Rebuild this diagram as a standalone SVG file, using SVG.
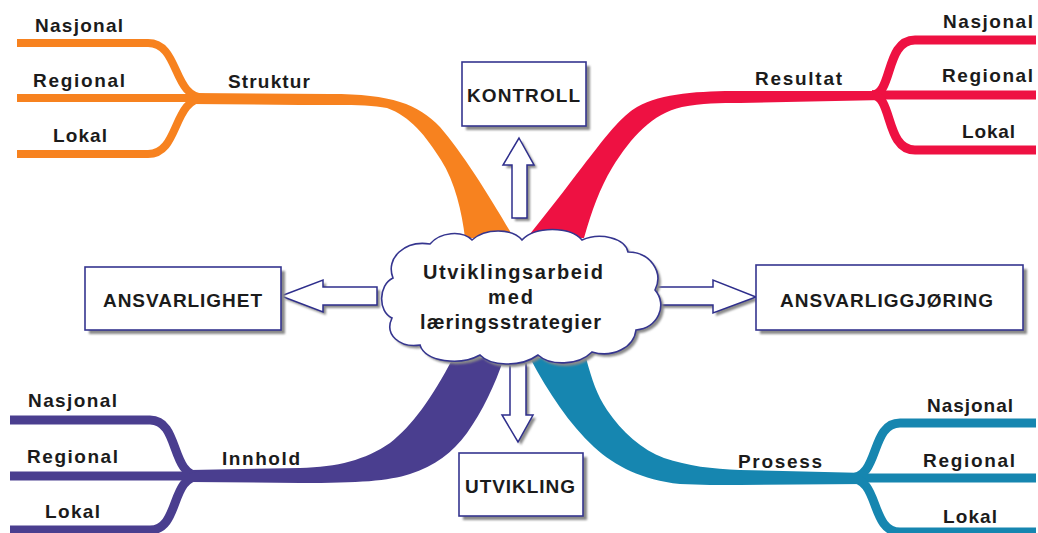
<svg xmlns="http://www.w3.org/2000/svg" width="1038" height="533" viewBox="0 0 1038 533">
  <defs>
    <filter id="soft" x="-10%" y="-10%" width="130%" height="130%">
      <feGaussianBlur stdDeviation="1.2"/>
    </filter>
    <style>
      .lbl { font-family: "Liberation Sans", Arial, sans-serif; font-weight: bold; font-size: 19px; fill: #1b1b1b; }
      .cl { font-family: "Liberation Sans", Arial, sans-serif; font-weight: bold; font-size: 20px; fill: #1b1b1b; }
      .box { fill: #ffffff; stroke: #35358f; stroke-width: 1.6; }
      .shadow { fill: #8a8a8a; filter: url(#soft); }
      .arrow { fill: #ffffff; stroke: #2e2e8c; stroke-width: 1.5; stroke-linejoin: miter; }
      .br { fill: none; stroke-linecap: butt; }
      .orange { stroke: #f7821f; stroke-width: 8; }
      .red { stroke: #ee1142; stroke-width: 9; }
      .purple { stroke: #4a3e8f; stroke-width: 9; }
      .teal { stroke: #1686b0; stroke-width: 9; }
    </style>
  </defs>
  <rect width="1038" height="533" fill="#ffffff"/>

  <!-- branches and ribbons -->
  <g id="connectors">
    <!-- Struktur (orange) -->
    <path fill="#f7821f" d="M190,93 L330,94 C392,94 418,104 440,127 C462,152 492,200 514,238 L465,238 C462,212 455,182 441,160 C426,136 410,116 387,108 C368,104 340,105 300,105 L190,104 Z"/>
    <path class="br orange" d="M17,43 H148 C180,43 172,98 205,98"/>
    <path class="br orange" d="M17,98 H205"/>
    <path class="br orange" d="M17,154 H148 C180,154 172,98 205,98"/>

    <!-- Resultat (red) -->
    <path fill="#ee1142" d="M884,91 L740,91 C700,91 662,93 637,107 C612,122 590,160 527,238 L584,238 C592,210 600,188 612,168 C632,136 652,114 682,107 C702,103 720,103 740,103 L884,100 Z"/>
    <path class="br red" d="M1036,40 H915 C885,40 893,95 872,95"/>
    <path class="br red" d="M1036,95 H872"/>
    <path class="br red" d="M1036,150 H915 C885,150 893,95 872,95"/>

    <!-- Innhold (purple) -->
    <path fill="#4a3e8f" d="M190,470 L300,468 C338,467 365,460 390,443 C412,426 432,398 453,358 L504,358 C495,385 482,412 467,433 C452,453 435,466 410,474 C388,481 360,483 300,483 L190,482 Z"/>
    <path class="br purple" d="M10,420 H150 C180,420 170,476 200,476"/>
    <path class="br purple" d="M10,476 H200"/>
    <path class="br purple" d="M10,530 H150 C180,530 170,476 200,476"/>

    <!-- Prosess (teal) -->
    <path fill="#1686b0" d="M530,358 C548,392 570,425 594,447 C615,466 642,480 680,484 C700,485 720,485 740,485 L866,484 L866,473 L740,470 C712,469 688,466 664,458 C642,450 622,432 607,410 C597,395 592,380 586,358 Z"/>
    <path class="br teal" d="M1036,423 H900 C870,423 880,478 850,478"/>
    <path class="br teal" d="M1036,478 H850"/>
    <path class="br teal" d="M1036,532 H900 C870,532 880,478 850,478"/>

    <!-- block arrows from the centre -->
    <g id="arrow-up">
      <polygon class="shadow" transform="translate(3,3)" points="519,138 534,165 527,165 527,218 512,218 512,165 503,165"/>
      <polygon class="arrow" points="519,138 534,165 527,165 527,218 512,218 512,165 503,165"/>
    </g>
    <g id="arrow-down">
      <polygon class="shadow" transform="translate(3,3)" points="510,363 526,363 526,415 533,415 518,442 502,415 510,415"/>
      <polygon class="arrow" points="510,363 526,363 526,415 533,415 518,442 502,415 510,415"/>
    </g>
    <g id="arrow-left">
      <polygon class="shadow" transform="translate(3,3)" points="281,296 323,280 323,287 377,287 377,305 323,305 323,312"/>
      <polygon class="arrow" points="281,296 323,280 323,287 377,287 377,305 323,305 323,312"/>
    </g>
    <g id="arrow-right">
      <polygon class="shadow" transform="translate(3,3)" points="657,287 713,287 713,280 756,297 713,313 713,305 657,305"/>
      <polygon class="arrow" points="657,287 713,287 713,280 756,297 713,313 713,305 657,305"/>
    </g>
  </g>

  <!-- central cloud -->
  <g id="centre">
    <path class="shadow" transform="translate(3,3)" d="M392,318 C378,312 378,285 393,278 C385,258 405,240 430,244 C440,232 462,230 472,240 C485,228 512,228 522,240 C535,226 570,226 582,240 C600,232 625,238 628,252 C650,252 664,272 655,290 C668,305 658,328 636,330 C634,348 612,358 592,352 C578,366 550,366 538,355 C520,368 490,366 480,355 C460,366 425,362 420,345 C400,348 384,335 392,318 Z"/>
    <path fill="#ffffff" stroke="#35358f" stroke-width="1.6" d="M392,318 C378,312 378,285 393,278 C385,258 405,240 430,244 C440,232 462,230 472,240 C485,228 512,228 522,240 C535,226 570,226 582,240 C600,232 625,238 628,252 C650,252 664,272 655,290 C668,305 658,328 636,330 C634,348 612,358 592,352 C578,366 550,366 538,355 C520,368 490,366 480,355 C460,366 425,362 420,345 C400,348 384,335 392,318 Z"/>
    <text class="cl" x="423" y="279" textLength="180" lengthAdjust="spacing">Utviklingsarbeid</text>
    <text class="cl" x="488" y="304" textLength="45" lengthAdjust="spacing">med</text>
    <text class="cl" x="420" y="329" textLength="181" lengthAdjust="spacing">læringsstrategier</text>
  </g>

  <!-- boxes -->
  <g id="kontroll">
    <rect class="shadow" x="466" y="66" width="124" height="64"/>
    <rect class="box" x="462" y="62" width="124" height="64"/>
    <text class="lbl" x="467" y="102" textLength="113" lengthAdjust="spacing">KONTROLL</text>
  </g>
  <g id="ansvarlighet">
    <rect class="shadow" x="89" y="271" width="196" height="63"/>
    <rect class="box" x="85" y="267" width="196" height="63"/>
    <text class="lbl" x="103" y="307" textLength="159" lengthAdjust="spacing">ANSVARLIGHET</text>
  </g>
  <g id="ansvarliggjoring">
    <rect class="shadow" x="760" y="269" width="267" height="65"/>
    <rect class="box" x="756" y="265" width="267" height="65"/>
    <text class="lbl" x="780" y="307" textLength="213" lengthAdjust="spacing">ANSVARLIGGJØRING</text>
  </g>
  <g id="utvikling">
    <rect class="shadow" x="463" y="457" width="124" height="63"/>
    <rect class="box" x="459" y="453" width="124" height="63"/>
    <text class="lbl" x="465" y="493" textLength="110" lengthAdjust="spacing">UTVIKLING</text>
  </g>

  <!-- branch labels -->
  <g id="struktur">
    <text class="lbl" x="228" y="88" textLength="82" lengthAdjust="spacing">Struktur</text>
    <text class="lbl" x="35" y="32" textLength="88" lengthAdjust="spacing">Nasjonal</text>
    <text class="lbl" x="33" y="87" textLength="92" lengthAdjust="spacing">Regional</text>
    <text class="lbl" x="53" y="142" textLength="54" lengthAdjust="spacing">Lokal</text>
  </g>
  <g id="resultat">
    <text class="lbl" x="755" y="85" textLength="87" lengthAdjust="spacing">Resultat</text>
    <text class="lbl" x="943" y="28" textLength="90" lengthAdjust="spacing">Nasjonal</text>
    <text class="lbl" x="942" y="82" textLength="91" lengthAdjust="spacing">Regional</text>
    <text class="lbl" x="962" y="138" textLength="53" lengthAdjust="spacing">Lokal</text>
  </g>
  <g id="innhold">
    <text class="lbl" x="222" y="465" textLength="78" lengthAdjust="spacing">Innhold</text>
    <text class="lbl" x="28" y="407" textLength="89" lengthAdjust="spacing">Nasjonal</text>
    <text class="lbl" x="27" y="463" textLength="91" lengthAdjust="spacing">Regional</text>
    <text class="lbl" x="45" y="518" textLength="55" lengthAdjust="spacing">Lokal</text>
  </g>
  <g id="prosess">
    <text class="lbl" x="738" y="468" textLength="84" lengthAdjust="spacing">Prosess</text>
    <text class="lbl" x="927" y="412" textLength="86" lengthAdjust="spacing">Nasjonal</text>
    <text class="lbl" x="923" y="467" textLength="92" lengthAdjust="spacing">Regional</text>
    <text class="lbl" x="943" y="523" textLength="54" lengthAdjust="spacing">Lokal</text>
  </g>
</svg>
